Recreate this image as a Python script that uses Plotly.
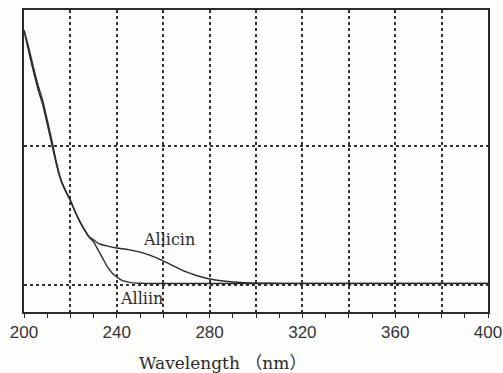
import plotly.graph_objects as go

# Allicin spectrum (wavelength nm, absorbance)
allicin_nm = [200, 202, 204, 206, 208, 210, 212, 214, 216, 218, 220, 222, 224, 226, 228,
              230, 232, 236, 240, 245, 250, 255, 260, 265, 270, 275, 280, 285, 290, 295,
              300, 310, 400]
allicin_abs = [1.835, 1.71, 1.57, 1.44, 1.33, 1.19, 1.04, 0.88, 0.755, 0.676, 0.61, 0.53,
               0.46, 0.40, 0.35, 0.325, 0.30, 0.28, 0.266, 0.255, 0.237, 0.21, 0.173,
               0.133, 0.094, 0.065, 0.043, 0.031, 0.022, 0.017, 0.014, 0.012, 0.012]

# Alliin spectrum
alliin_nm = [200, 202, 204, 206, 208, 210, 212, 214, 216, 218, 220, 222, 224, 226, 228,
             230, 232, 234, 236, 238, 240, 242, 244, 246, 250, 260, 400]
alliin_abs = [1.83, 1.68, 1.54, 1.41, 1.30, 1.16, 1.01, 0.865, 0.748, 0.672, 0.607, 0.527,
              0.458, 0.398, 0.345, 0.31, 0.25, 0.19, 0.13, 0.086, 0.058, 0.036, 0.024,
              0.017, 0.013, 0.011, 0.011]

x_tickvals = [200, 220, 240, 260, 280, 300, 320, 340, 360, 380, 400]
x_ticktext = ["200", "", "240", "", "280", "", "320", "", "360", "", "400"]

ink = "#2b2b2b"

fig = go.Figure()
fig.add_trace(go.Scatter(x=allicin_nm, y=allicin_abs, mode="lines", name="Allicin",
                         line=dict(color=ink, width=1.4, shape="spline", smoothing=0.6)))
fig.add_trace(go.Scatter(x=alliin_nm, y=alliin_abs, mode="lines", name="Alliin",
                         line=dict(color=ink, width=1.4, shape="spline", smoothing=0.6)))

fig.add_annotation(x=262.5, y=0.324, xref="x", yref="y", text="Allicin", showarrow=False,
                   font=dict(family="DejaVu Serif", size=16, color=ink))
fig.add_annotation(x=250.5, y=-0.1, xref="x", yref="y", text="Alliin", showarrow=False,
                   font=dict(family="DejaVu Serif", size=16, color=ink))
fig.add_annotation(x=285.5, y=-0.169, xref="x", yref="paper", text="Wavelength （nm）",
                   showarrow=False, yanchor="middle",
                   font=dict(family="DejaVu Serif, Noto Sans CJK JP", size=17, color=ink))

fig.update_layout(
    width=503, height=373,
    margin=dict(l=24, r=15, t=10, b=61, autoexpand=False),
    paper_bgcolor="#fdfdfb", plot_bgcolor="#fdfdfb",
    showlegend=False,
    xaxis=dict(range=[200, 400], tickmode="array", tickvals=x_tickvals, ticktext=x_ticktext,
               automargin=False,
               ticks="outside", ticklen=4, tickwidth=1.2, tickcolor=ink,
               showgrid=True, gridcolor="#333333", griddash="dot", gridwidth=1.5,
               showline=True, linecolor=ink, linewidth=1.5, mirror=True, zeroline=False,
               tickfont=dict(family="Liberation Sans", size=17, color="#333333"),
               minor=dict(dtick=10, ticks="outside", ticklen=4, tickwidth=1.2,
                          tickcolor=ink, showgrid=False)),
    yaxis=dict(range=[-0.194, 1.978], tickmode="array", tickvals=[0, 1],
               automargin=False,
               showticklabels=False, ticks="",
               showgrid=True, gridcolor="#333333", griddash="dot", gridwidth=1.5,
               showline=True, linecolor=ink, linewidth=1.5, mirror=True, zeroline=False),
)

fig.write_html("out.html", config={"displayModeBar": False},
               post_script="document.body.style.margin='0';document.body.style.background='#fdfdfb';")
